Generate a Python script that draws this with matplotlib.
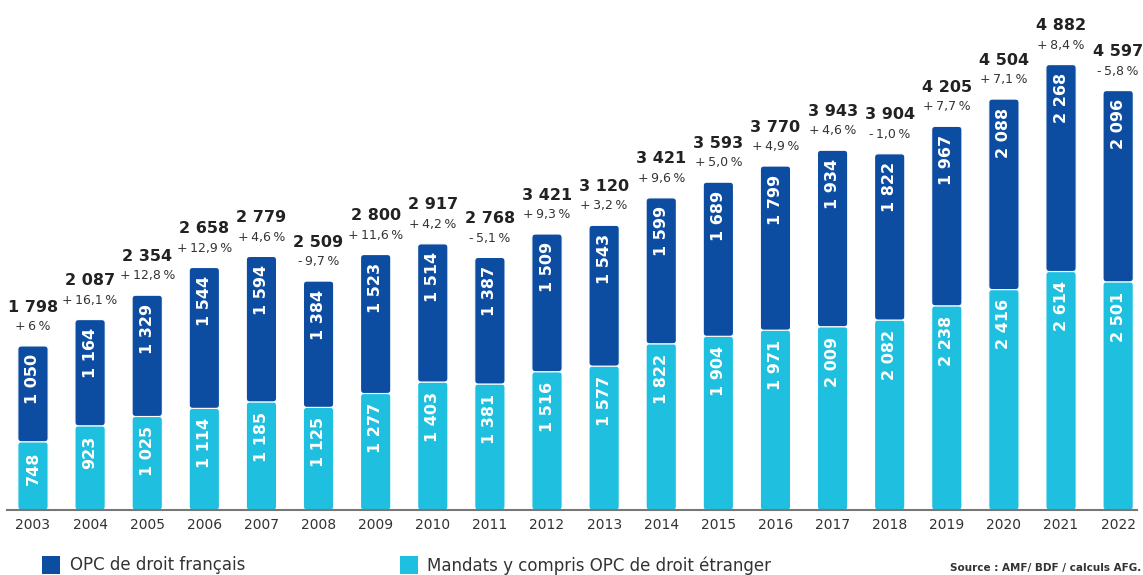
import numpy as np
import matplotlib
matplotlib.use("Agg")
import matplotlib.pyplot as plt
from matplotlib.patches import FancyBboxPatch, Rectangle

plt.rcParams['font.family'] = ['DejaVu Sans']

years = [str(y) for y in range(2003, 2023)]
mandats = [748, 923, 1025, 1114, 1185, 1125, 1277, 1403, 1381, 1516,
           1577, 1822, 1904, 1971, 2009, 2082, 2238, 2416, 2614, 2501]
opc_fr = [1050, 1164, 1329, 1544, 1594, 1384, 1523, 1514, 1387, 1509,
          1543, 1599, 1689, 1799, 1934, 1822, 1967, 2088, 2268, 2096]
# totals as printed in the source (2012 label kept as shown)
totals = ["1 798", "2 087", "2 354", "2 658", "2 779", "2 509", "2 800", "2 917",
          "2 768", "3 421", "3 120", "3 421", "3 593", "3 770", "3 943", "3 904",
          "4 205", "4 504", "4 882", "4 597"]
growth = ["+ 6 %", "+ 16,1 %", "+ 12,8 %", "+ 12,9 %", "+ 4,6 %", "- 9,7 %",
          "+ 11,6 %", "+ 4,2 %", "- 5,1 %", "+ 9,3 %", "+ 3,2 %", "+ 9,6 %",
          "+ 5,0 %", "+ 4,9 %", "+ 4,6 %", "- 1,0 %", "+ 7,7 %", "+ 7,1 %",
          "+ 8,4 %", "- 5,8 %"]

DARK = "#0C4DA2"
CYAN = "#1FBFE0"

def fmt(v):
    return f"{v:,}".replace(",", " ")

fig = plt.figure(figsize=(11.43, 5.75), dpi=100)
ax = fig.add_axes([7/1143, 65/575, 1130/1143, 510/575])
x = np.arange(len(years))
ax.set_xlim(-0.455, 19.33)
ax.set_ylim(0, 5590)

b1 = ax.bar(x, mandats, width=0.53, color=CYAN)
b2 = ax.bar(x, opc_fr, width=0.53, bottom=mandats, color=DARK)

# rounded corners: replace the rectangles with fancy boxes
fig.canvas.draw()
px_x = ax.transData.transform((1, 0))[0] - ax.transData.transform((0, 0))[0]
px_y = ax.transData.transform((0, 1))[1] - ax.transData.transform((0, 0))[1]
aspect = px_x / px_y
r = 3.5 / px_x
for bars in (b1, b2):
    for p in bars:
        p.set_visible(False)
        fb = FancyBboxPatch((p.get_x(), p.get_y()), p.get_width(), p.get_height(),
                            boxstyle=f"round,pad=0,rounding_size={r}",
                            mutation_aspect=aspect,
                            facecolor=p.get_facecolor(), edgecolor="white",
                            linewidth=0.8)
        ax.add_patch(fb)

# labels inside the bars, hung from the top of each segment
for i in range(len(years)):
    ax.annotate(fmt(mandats[i]), (x[i], mandats[i]), xytext=(0, -7),
                textcoords="offset points", rotation=90, color="white",
                ha="center", va="top", fontsize=11.5, fontweight="bold")
    top = mandats[i] + opc_fr[i]
    ax.annotate(fmt(opc_fr[i]), (x[i], top), xytext=(0, -6),
                textcoords="offset points", rotation=90, color="white",
                ha="center", va="top", fontsize=11.5, fontweight="bold")
    ax.annotate(growth[i].replace(" ", "\u2009"), (x[i], top), xytext=(0, 14),
                textcoords="offset points",
                ha="center", va="center", fontsize=9, color="#333333")
    ax.annotate(totals[i], (x[i], top), xytext=(0, 28), textcoords="offset points",
                ha="center", va="center", fontsize=11.5, fontweight="bold",
                color="#222222")

for s in ["top", "right", "left"]:
    ax.spines[s].set_visible(False)
ax.spines["bottom"].set_color("#777777")
ax.spines["bottom"].set_linewidth(1.5)
ax.set_yticks([])
ax.set_xticks(x)
ax.set_xticklabels(years, fontsize=10, color="#333333")
ax.tick_params(axis="x", length=0, pad=6)

# legend
fig.patches.append(Rectangle((42/1143, 1 - 574/575), 18/1143, 18/575,
                             transform=fig.transFigure, facecolor=DARK, edgecolor="none"))
fig.text(70/1143, 1 - 565/575, "OPC de droit français", fontsize=12,
         color="#333333", va="center")
fig.patches.append(Rectangle((400/1143, 1 - 574/575), 18/1143, 18/575,
                             transform=fig.transFigure, facecolor=CYAN, edgecolor="none"))
fig.text(427/1143, 1 - 566/575, "Mandats y compris OPC de droit étranger", fontsize=12,
         color="#333333", va="center")
fig.text(1141/1143, 1 - 568/575, "Source : AMF/ BDF / calculs AFG.", fontsize=7.5,
         fontweight="bold", color="#333333", ha="right", va="center")

fig.savefig("out.png", dpi=100)
